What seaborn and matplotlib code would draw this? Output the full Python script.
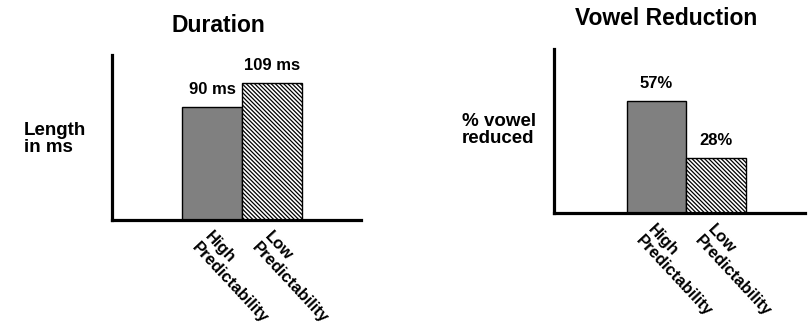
import matplotlib
matplotlib.use("Agg")
import matplotlib.pyplot as plt
import seaborn as sns

categories = ["High\nPredictability", "Low\nPredictability"]
duration_ms = [90, 109]
duration_labels = ["90 ms", "109 ms"]
reduction_pct = [57, 28]
reduction_labels = ["57%", "28%"]

sns.set_style("white")
plt.rcParams["font.family"] = ["Liberation Sans", "DejaVu Sans"]
plt.rcParams["font.weight"] = "bold"
plt.rcParams["text.color"] = "black"
plt.rcParams["xtick.color"] = "black"
plt.rcParams["hatch.linewidth"] = 0.9

fig = plt.figure(figsize=(8.09, 3.28), dpi=100)
ax1 = fig.add_axes([0.1384, 0.3293, 0.3078, 0.503])
ax2 = fig.add_axes([0.6848, 0.3506, 0.3103, 0.500])


def draw(ax, values, labels, xlim, ylim):
    sns.barplot(x=categories, y=values, hue=categories, palette=["#808080", "white"],
                width=1.0, legend=False, ax=ax, edgecolor="black", linewidth=1.0)
    ax.patches[1].set_hatch("\\" * 8)
    for i, (v, lab) in enumerate(zip(values, labels)):
        ax.annotate(lab, xy=(i, v), xytext=(0, 7), textcoords="offset points",
                    ha="center", va="bottom", fontsize=12, fontweight="bold",
                    color="black")
    ax.set_xlim(*xlim)
    ax.set_ylim(*ylim)
    ax.set_yticks([])
    ax.set_xticks([0, 1])
    ax.set_xticklabels(categories, rotation=-47, ha="left", va="top",
                       rotation_mode="anchor", fontsize=12, fontweight="bold",
                       color="black")
    ax.tick_params(axis="x", length=0, pad=6)
    ax.set_xlabel("")
    ax.set_ylabel("")
    sns.despine(ax=ax)
    for s in ["left", "bottom"]:
        ax.spines[s].set_linewidth(2.3)
        ax.spines[s].set_color("black")


draw(ax1, duration_ms, duration_labels, (-1.675, 2.475), (0, 131.3))
draw(ax2, reduction_pct, reduction_labels, (-1.72, 2.50), (0, 83.5))

fig.text(218 / 809, 1 - 32 / 328, "Duration", ha="center", va="baseline",
         fontsize=16.5, fontweight="bold")
fig.text(666 / 809, 1 - 25 / 328, "Vowel Reduction", ha="center", va="baseline",
         fontsize=16.5, fontweight="bold")
fig.text(24 / 809, 1 - 139 / 328, "Length\nin ms", ha="left", va="center",
         fontsize=13.5, fontweight="bold", linespacing=1.0)
fig.text(462 / 809, 1 - 130 / 328, "% vowel\nreduced", ha="left", va="center",
         fontsize=13.5, fontweight="bold", linespacing=1.0)

fig.savefig("out.png", dpi=100)
